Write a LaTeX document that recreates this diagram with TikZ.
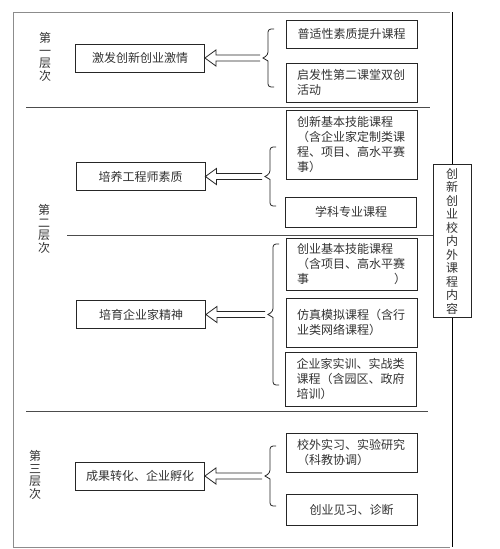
\documentclass[tikz,border=0pt]{standalone}
\usepackage{fontspec}
\newfontfamily\cjk{Noto Sans CJK SC}
\usetikzlibrary{calc}

\tikzstyle{plainfig}=[%
	every node/.style = {%
		font=\cjk\fontsize{12}{15}\selectfont,
		text=black!80
	},%
	leftBox/.style={%
		draw=black!85, line width=0.8pt,
		minimum width=129pt, minimum height=28pt
	},
	rightBox/.style={%
		draw=black!85, line width=0.8pt,
		text width=109pt, inner xsep=11pt, inner ysep=3pt,
		align=left
	},
	levelLabel/.style={%
		align=center,
		font=\cjk\fontsize{12}{12.5}\selectfont
	},
	sepLine/.style={%
		draw=black!70, line width=0.8pt
	},
	braceLine/.style={%
		draw=black!85, line width=0.8pt, rounded corners=3pt
	},
	hollowArrow/.style={%
		draw=black!85, line width=0.8pt
	}
]

\begin{document}
\begin{tikzpicture}[
	x=1pt, y=-1pt,
	plainfig
]
	\useasboundingbox [fill=white] (0,0) rectangle (500,549);

	% frame and level lines
	\draw [draw=black!45, line width=0.8pt] (450,12) -- (13,12) -- (13,547) -- (450,547);
	\draw [sepLine] (26,107) -- (430,107);
	\draw [sepLine] (67,235) -- (433,235);
	\draw [sepLine] (26,411) -- (428,411);

	\node [levelLabel] (lv1) at (45,57)  {第\\一\\层\\次};
	\node [levelLabel] (lv2) at (44,229) {第\\二\\层\\次};
	\node [levelLabel] (lv3) at (35,475) {第\\三\\层\\次};

	% left column
	\node [leftBox] (l1) at (140,58)    {激发创新创业激情};
	\node [leftBox] (l2) at (140.5,176.5) {培养工程师素质};
	\node [leftBox] (l3) at (141,314.5) {培育企业家精神};
	\node [leftBox] (l4) at (140,476)   {成果转化、企业孵化};

	% right column
	\node [rightBox, minimum height=28pt, align=center] (r1) at (351.5,34) {普适性素质提升课程};
	\node [rightBox, minimum height=39pt] (r2) at (351.5,82.5) {启发性第二课堂双创\\活动};
	\node [rightBox, minimum height=69pt] (r3) at (351.5,144.5)
		{创新基本技能课程\\（含企业家定制类课\\程、项目、高水平赛\\事）};
	\node [rightBox, minimum height=30pt, align=center] (r4) at (351,212) {学科专业课程};
	\node [rightBox, minimum height=52pt] (r5) at (351.5,264)
		{创业基本技能课程\\（含项目、高水平赛\\事\hfill）};
	\node [rightBox, minimum height=49pt] (r6) at (351.5,322.5)
		{仿真模拟课程（含行\\业类网络课程）};
	\node [rightBox, minimum height=54pt] (r7) at (351,379)
		{企业家实训、实战类\\课程（含园区、政府\\培训）};
	\node [rightBox, minimum height=39pt] (r8) at (351.5,452.5)
		{校外实习、实验研究\\（科教协调）};
	\node [rightBox, minimum height=31pt, align=center] (r9) at (351.5,509.5) {创业见习、诊断};

	\node [draw=black!85, line width=0.8pt, minimum width=38pt, minimum height=152pt,
		align=center, font=\cjk\fontsize{12}{13.5}\selectfont] (v) at (452,241)
		{创\\新\\创\\业\\校\\内\\外\\课\\程\\内\\容};
	\draw [draw=black, line width=0.8pt] (v.north) -- (v.north |- 0,12);
	\draw [draw=black, line width=0.8pt] (v.south) -- (v.south |- 0,547);

	% braces and arrows
	\foreach \x/\t/\m/\b [count=\i] in {268/29/58/87, 270/147/176.5/206, 273/244/314.5/385, 270/446/476/506} {
		\draw [braceLine] (\x+6,\t) -- (\x,\t) -- (\x,\m-3) [sharp corners] -- (\x-5,\m)
			-- (\x,\m+3) [rounded corners=3pt] -- (\x,\b) -- (\x+6,\b);
		\coordinate (b\i) at (\x-5,\m);
	}

	\foreach \i in {1,...,4} {
		\draw [hollowArrow] ($(b\i)+(-3,-3)$) -- ($(l\i.east)+(11,-3)$) -- ++(0,-5)
			-- (l\i.east) -- ++(11,8) -- ++(0,-5) -- ($(b\i)+(-3,3)$);
	}
\end{tikzpicture}
\end{document}
